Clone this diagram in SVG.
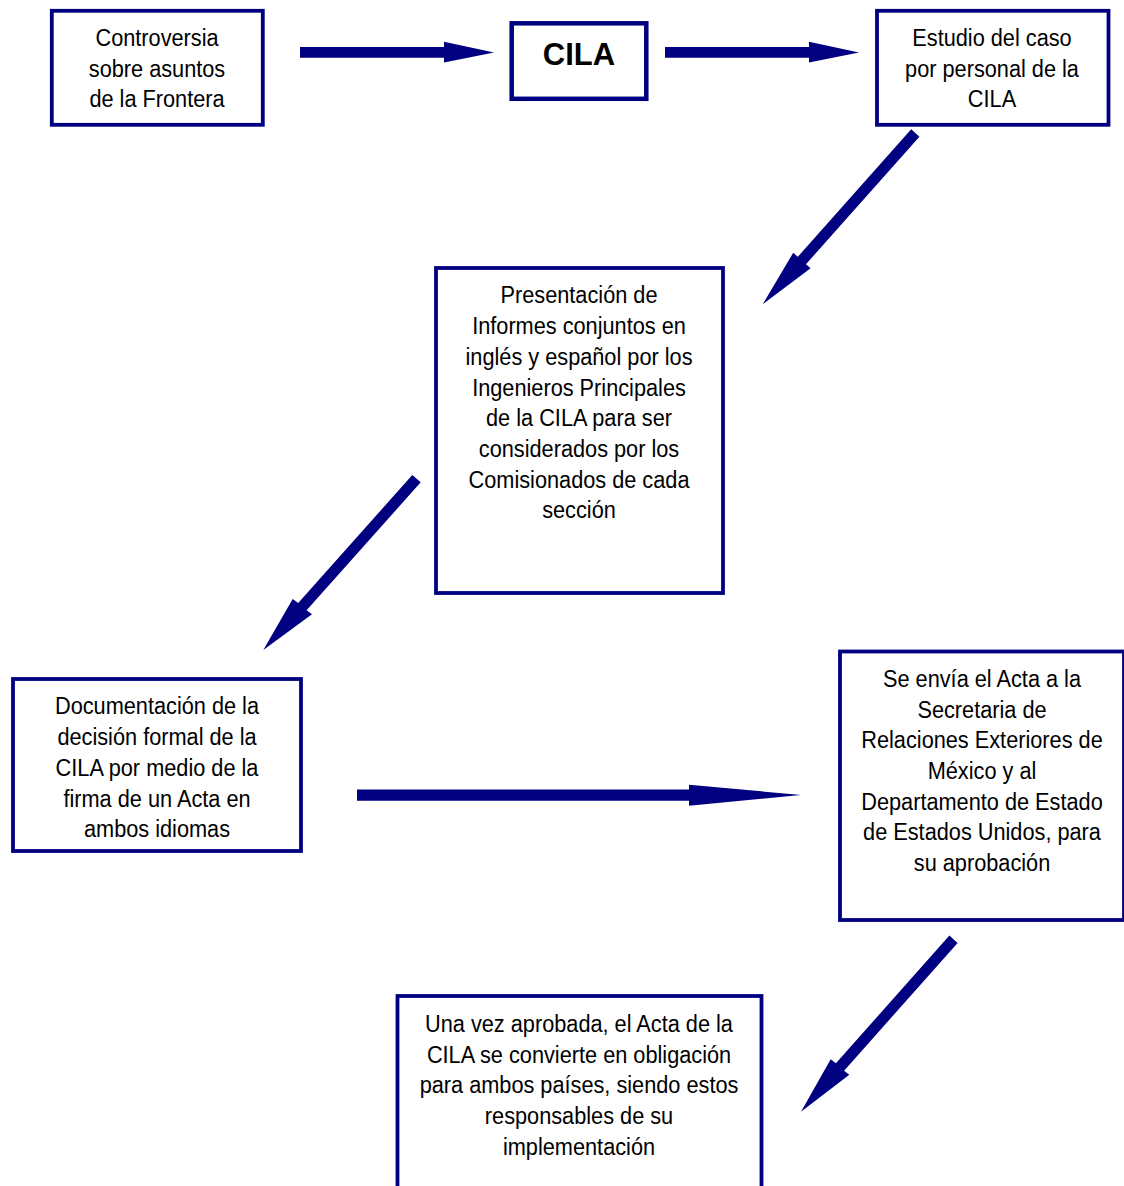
<svg xmlns="http://www.w3.org/2000/svg" width="1124" height="1186" viewBox="0 0 1124 1186">
<style>
.box{fill:#ffffff;stroke:#000080;stroke-width:3.8}
.arr{fill:#000080;stroke:none}
.t{font-family:"Liberation Sans",Arial,sans-serif;font-size:23px;fill:#000000;text-anchor:middle}
.b{font-family:"Liberation Sans",Arial,sans-serif;font-size:31px;font-weight:bold;fill:#000000;text-anchor:middle}
</style>
<rect width="1124" height="1186" fill="#ffffff"/>
<g id="connectors">
<polygon class="arr" points="300,47 444,47 444,41.8 494,52.4 444,62.6 444,57.8 300,57.8"/>
<polygon class="arr" points="665,47 809,47 809,41.8 859,52.4 809,62.6 809,57.8 665,57.8"/>
<polygon class="arr" points="911.2,129.3 797.8,256.8 793.2,252.8 762.7,304.3 810.6,268.2 806,264.2 919.4,136.7"/>
<polygon class="arr" points="412.3,475 298.2,603 292.7,599 263.3,650 312,614.3 306.6,610.3 420.7,482.3"/>
<polygon class="arr" points="357,789.5 689,789.5 689,784.7 801,795 689,805.7 689,800.7 357,800.7"/>
<polygon class="arr" points="949.4,935.5 835.9,1063.3 830.7,1059.3 801,1111.7 849.3,1074.7 844.1,1070.7 957.6,942.9"/>
</g>
<g id="n1">
<rect class="box" x="51.8" y="10.8" width="211" height="114"/>
<text class="t" transform="matrix(0.945,0,0,1,157,0)"><tspan x="0" y="46">Controversia</tspan><tspan x="0" y="76.7">sobre asuntos</tspan><tspan x="0" y="107.4">de la Frontera</tspan></text>
</g>
<g id="n2">
<rect class="box" x="511.7" y="23.3" width="134.6" height="75.5" style="stroke-width:4.5"/>
<text class="b" x="579" y="65">CILA</text>
</g>
<g id="n3">
<rect class="box" x="877" y="10.8" width="231.5" height="114"/>
<text class="t" transform="matrix(0.945,0,0,1,992,0)"><tspan x="0" y="46">Estudio del caso</tspan><tspan x="0" y="76.7">por personal de la</tspan><tspan x="0" y="107.4">CILA</tspan></text>
</g>
<g id="n4">
<rect class="box" x="436" y="268" width="287" height="325"/>
<text class="t" transform="matrix(0.945,0,0,1,579,0)"><tspan x="0" y="303.5">Presentación de</tspan><tspan x="0" y="334.2">Informes conjuntos en</tspan><tspan x="0" y="364.9">inglés y español por los</tspan><tspan x="0" y="395.6">Ingenieros Principales</tspan><tspan x="0" y="426.3">de la CILA para ser</tspan><tspan x="0" y="457">considerados por los</tspan><tspan x="0" y="487.7">Comisionados de cada</tspan><tspan x="0" y="518.4">sección</tspan></text>
</g>
<g id="n5">
<rect class="box" x="13" y="679" width="288" height="172"/>
<text class="t" transform="matrix(0.945,0,0,1,157,0)"><tspan x="0" y="714.5">Documentación de la</tspan><tspan x="0" y="745.2">decisión formal de la</tspan><tspan x="0" y="775.9">CILA por medio de la</tspan><tspan x="0" y="806.6">firma de un Acta en</tspan><tspan x="0" y="837.3">ambos idiomas</tspan></text>
</g>
<g id="n6">
<rect class="box" x="840" y="651.5" width="284" height="268.5"/>
<text class="t" transform="matrix(0.945,0,0,1,982,0)"><tspan x="0" y="687">Se envía el Acta a la</tspan><tspan x="0" y="717.7">Secretaria de</tspan><tspan x="0" y="748.4">Relaciones Exteriores de</tspan><tspan x="0" y="779.1">México y al</tspan><tspan x="0" y="809.8">Departamento de Estado</tspan><tspan x="0" y="840.5">de Estados Unidos, para</tspan><tspan x="0" y="871.2">su aprobación</tspan></text>
</g>
<g id="n7">
<rect class="box" x="397.5" y="996" width="364" height="210"/>
<text class="t" transform="matrix(0.945,0,0,1,579,0)"><tspan x="0" y="1032">Una vez aprobada, el Acta de la</tspan><tspan x="0" y="1062.7">CILA se convierte en obligación</tspan><tspan x="0" y="1093.4">para ambos países, siendo estos</tspan><tspan x="0" y="1124.1">responsables de su</tspan><tspan x="0" y="1154.8">implementación</tspan></text>
</g>
</svg>
